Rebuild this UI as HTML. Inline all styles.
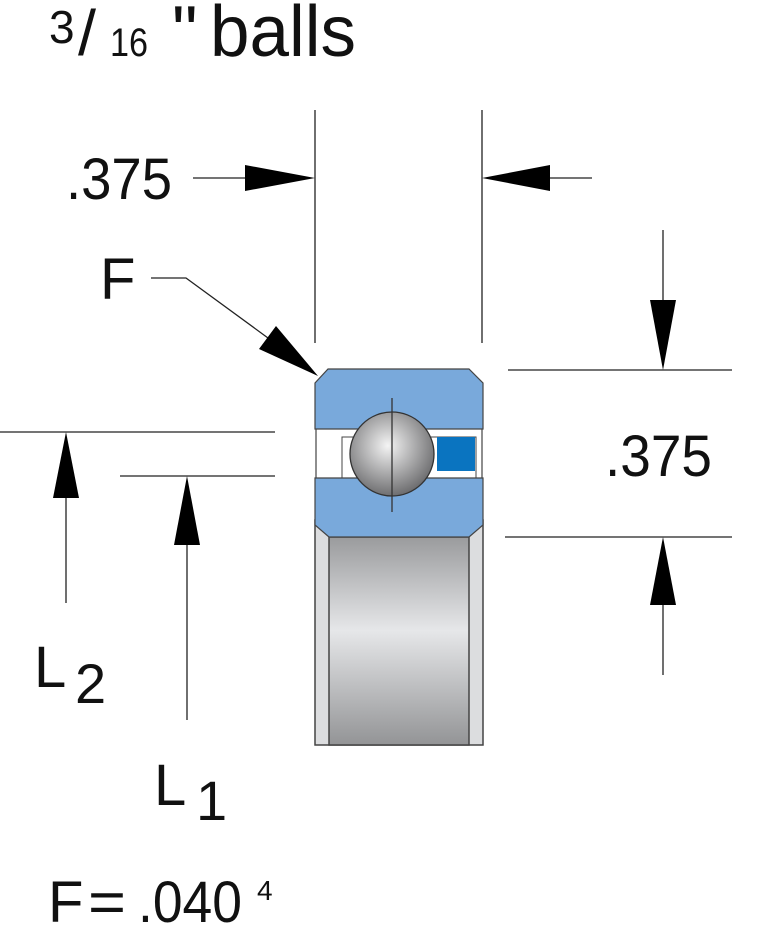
<!DOCTYPE html>
<html><head><meta charset="utf-8"><style>
html,body{margin:0;padding:0;background:#fff;}
svg{display:block;}
text{font-family:"Liberation Sans",sans-serif;fill:#111;}
</style></head><body>
<svg width="759" height="925" viewBox="0 0 759 925" xmlns="http://www.w3.org/2000/svg">
<defs>
<linearGradient id="gv" x1="0" y1="0" x2="0" y2="1">
<stop offset="0" stop-color="#9a9b9d"/>
<stop offset="0.45" stop-color="#e6e7e9"/>
<stop offset="1" stop-color="#939496"/>
</linearGradient>
<radialGradient id="ball" cx="0.45" cy="0.4" r="0.6">
<stop offset="0" stop-color="#f4f4f4"/>
<stop offset="1" stop-color="#6e6e70"/>
</radialGradient>
</defs>
<!-- title -->
<text x="49" y="43" font-size="46">3</text>
<text x="78" y="55" font-size="64" textLength="18" lengthAdjust="spacingAndGlyphs">/</text>
<text x="110" y="56" font-size="40" textLength="38" lengthAdjust="spacingAndGlyphs">16</text>
<text x="172" y="56" font-size="72">"</text>
<text x="210" y="56" font-size="72" textLength="146" lengthAdjust="spacingAndGlyphs">balls</text>

<!-- top dims -->
<line x1="315" y1="110" x2="315" y2="343" stroke="#222" stroke-width="1.3"/>
<line x1="482" y1="110" x2="482" y2="343" stroke="#222" stroke-width="1.3"/>
<line x1="193" y1="178" x2="250" y2="178" stroke="#222" stroke-width="1.3"/>
<polygon points="245,165 315,178 245,191" fill="#000"/>
<line x1="545" y1="178" x2="592" y2="178" stroke="#222" stroke-width="1.3"/>
<polygon points="550,165 482,178 550,191" fill="#000"/>
<text x="66" y="199" font-size="58" textLength="106" lengthAdjust="spacingAndGlyphs">.375</text>

<!-- F -->
<text x="100" y="299" font-size="58">F</text>
<polyline points="151,278 186,278 268,338" fill="none" stroke="#222" stroke-width="1.3"/>
<polygon points="259,349 276,326 318,376" fill="#000"/>

<!-- right dims -->
<line x1="508" y1="370" x2="732" y2="370" stroke="#222" stroke-width="1.3"/>
<line x1="505" y1="537" x2="732" y2="537" stroke="#222" stroke-width="1.3"/>
<line x1="663" y1="230" x2="663" y2="305" stroke="#222" stroke-width="1.3"/>
<polygon points="650,300 676,300 663,370" fill="#000"/>
<line x1="663" y1="600" x2="663" y2="675" stroke="#222" stroke-width="1.3"/>
<polygon points="650,605 676,605 663,537" fill="#000"/>
<text x="605" y="476" font-size="58" textLength="107" lengthAdjust="spacingAndGlyphs">.375</text>

<!-- left dims -->
<line x1="0" y1="432" x2="275" y2="432" stroke="#222" stroke-width="1.3"/>
<line x1="120" y1="476" x2="275" y2="476" stroke="#222" stroke-width="1.3"/>
<line x1="66" y1="495" x2="66" y2="603" stroke="#222" stroke-width="1.3"/>
<polygon points="53,498 79,498 66,432" fill="#000"/>
<line x1="187" y1="540" x2="187" y2="720" stroke="#222" stroke-width="1.3"/>
<polygon points="174,545 200,545 187,476" fill="#000"/>
<text x="34" y="687" font-size="58">L</text>
<text x="75" y="703" font-size="56">2</text>
<text x="154" y="805" font-size="58">L</text>
<text x="196" y="820" font-size="56">1</text>

<!-- bearing lower section -->
<rect x="315" y="520" width="168" height="225" fill="#dcdddf" stroke="#444" stroke-width="1.5"/>
<rect x="329" y="537" width="140" height="208" fill="url(#gv)" stroke="#444" stroke-width="1.5"/>
<!-- white gap -->
<rect x="316" y="425" width="166" height="56" fill="#fff" stroke="#444" stroke-width="1.2"/>
<rect x="342" y="437" width="134" height="41" fill="#fff" stroke="#444" stroke-width="1"/>
<rect x="437" y="437" width="38" height="34" fill="#0a74c0"/>
<!-- top blue -->
<polygon points="315,383 328,369 469,369 483,383 483,429 315,429" fill="#79a9db" stroke="#444" stroke-width="1.2"/>
<!-- bottom blue -->
<polygon points="315,478 483,478 483,525 469,537 329,537 315,525" fill="#79a9db" stroke="#444" stroke-width="1.2"/>
<!-- ball -->
<circle cx="392" cy="454" r="42" fill="url(#ball)" stroke="#333" stroke-width="1.3"/>
<line x1="392" y1="398" x2="392" y2="512" stroke="#333" stroke-width="1.3"/>

<!-- bottom formula -->
<text x="48" y="922" font-size="58">F</text>
<text x="88" y="922" font-size="58" textLength="38" lengthAdjust="spacingAndGlyphs">=</text>
<text x="138" y="922" font-size="58" textLength="104" lengthAdjust="spacingAndGlyphs">.040</text>
<text x="257" y="900" font-size="28">4</text>
</svg>
</body></html>
